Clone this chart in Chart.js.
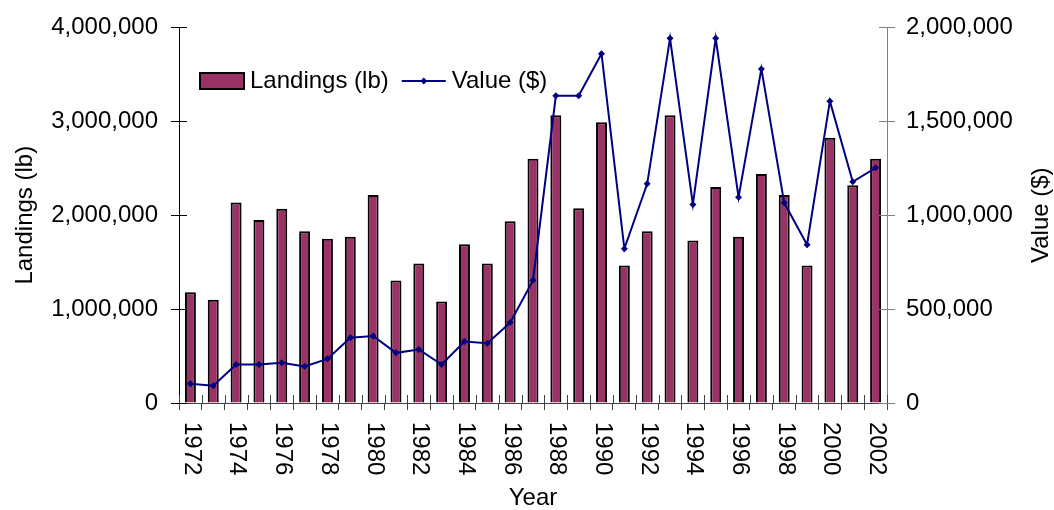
<!DOCTYPE html>
<html>
<head>
<meta charset="utf-8">
<script src="https://cdn.jsdelivr.net/npm/chart.js@4.4.0/dist/chart.umd.min.js"></script>
<style>
  html, body { margin: 0; padding: 0; background: #fff; }
</style>
</head>
<body>
<canvas id="chart1" width="1054" height="510"></canvas>
<script>
// données
var years = ['1972','1973','1974','1975','1976','1977','1978','1979','1980','1981',
             '1982','1983','1984','1985','1986','1987','1988','1989','1990','1991',
             '1992','1993','1994','1995','1996','1997','1998','1999','2000','2001','2002'];

var landings = [1180000, 1100000, 2135000, 1950000, 2070000, 1830000, 1750000, 1770000, 2215000, 1305000,
                1485000, 1080000, 1690000, 1485000, 1935000, 2600000, 3065000, 2075000, 2990000, 1465000,
                1830000, 3065000, 1730000, 2300000, 1770000, 2440000, 2215000, 1465000, 2825000, 2320000, 2600000];

var values = [102000, 92000, 205000, 205000, 214000, 195000, 235000, 347000, 357000, 267000,
              285000, 205000, 327000, 318000, 428000, 653000, 1636000, 1636000, 1860000, 822000,
              1167000, 1942000, 1057000, 1942000, 1096000, 1779000, 1066000, 843000, 1607000, 1178000, 1252000];

var shownYears = ['1972','1974','1976','1978','1980','1982','1984','1986','1988','1990',
                  '1992','1994','1996','1998','2000','2002'];
var leftTicks = [0, 1000000, 2000000, 3000000, 4000000];
var rightTicks = [0, 500000, 1000000, 1500000, 2000000];

var barColor = '#993366';
var lineColor = '#000080';
var fontFam = "'Liberation Sans', Arial, sans-serif";

Chart.defaults.font.family = fontFam;
Chart.defaults.font.size = 24;
Chart.defaults.color = '#000';

// ticks qui traversent les axes + labels tournés + légende dans le graphique
var extras = {
    id: 'extras',
    afterDraw: function(chart) {
        var ctx = chart.ctx;
        var area = chart.chartArea;
        var x = chart.scales.x, y = chart.scales.y, y1 = chart.scales.y1;

        ctx.save();
        ctx.lineWidth = 1;

        //petits ticks à l'intérieur
        ctx.strokeStyle = '#000';
        y.ticks.forEach(function(t) {
            var py = Math.round(y.getPixelForValue(t.value)) + 0.5;
            ctx.beginPath(); ctx.moveTo(area.left, py); ctx.lineTo(area.left + 8, py); ctx.stroke();
        });
        ctx.strokeStyle = '#808080';
        y1.ticks.forEach(function(t) {
            var py = Math.round(y1.getPixelForValue(t.value)) + 0.5;
            ctx.beginPath(); ctx.moveTo(area.right, py); ctx.lineTo(area.right - 8, py); ctx.stroke();
        });
        ctx.strokeStyle = '#404040';
        var step = x.getPixelForValue(1) - x.getPixelForValue(0);
        for (var i = 0; i <= years.length; i++) {
            var px = Math.round(x.getPixelForValue(i) - step / 2) + 0.5;
            ctx.beginPath(); ctx.moveTo(px, area.bottom); ctx.lineTo(px, area.bottom - 8); ctx.stroke();
        }

        //labels des années, lus de haut en bas
        ctx.fillStyle = '#000';
        ctx.font = '24px ' + fontFam;
        ctx.textAlign = 'left';
        ctx.textBaseline = 'middle';
        years.forEach(function(yr, i) {
            if (shownYears.indexOf(yr) < 0) return;
            ctx.save();
            ctx.translate(x.getPixelForValue(i) + 1, area.bottom + 19);
            ctx.rotate(Math.PI / 2);
            ctx.fillText(yr, 0, 0);
            ctx.restore();
        });

        //titre axe droit
        ctx.save();
        ctx.translate(1041, (area.top + area.bottom) / 2);
        ctx.rotate(-Math.PI / 2);
        ctx.textAlign = 'center';
        ctx.fillText(chart.data.datasets[1].label, 0, 0);
        ctx.restore();

        //légende
        var ly = 81;
        var lx = area.left + 21;
        ctx.fillStyle = barColor;
        ctx.fillRect(lx, ly - 8, 44, 16);
        ctx.lineWidth = 2;
        ctx.strokeStyle = '#000';
        ctx.strokeRect(lx, ly - 8, 44, 16);
        lx += 50;
        ctx.fillStyle = '#000';
        ctx.fillText(chart.data.datasets[0].label, lx, ly);
        lx += ctx.measureText(chart.data.datasets[0].label).width + 13;
        ctx.strokeStyle = lineColor;
        ctx.lineWidth = 2;
        ctx.beginPath(); ctx.moveTo(lx, ly); ctx.lineTo(lx + 44, ly); ctx.stroke();
        ctx.fillStyle = lineColor;
        ctx.beginPath();
        ctx.moveTo(lx + 22, ly - 3.5); ctx.lineTo(lx + 25.5, ly); ctx.lineTo(lx + 22, ly + 3.5); ctx.lineTo(lx + 18.5, ly);
        ctx.closePath(); ctx.fill();
        lx += 50;
        ctx.fillStyle = '#000';
        ctx.fillText(chart.data.datasets[1].label, lx, ly);

        ctx.restore();
    }
};

var ctx = document.getElementById('chart1').getContext('2d');
var myChart = new Chart(ctx, {
    type: 'bar',
    data: {
        labels: years,
        datasets: [{
            type: 'bar',
            label: 'Landings (lb)',
            data: landings,
            yAxisID: 'y',
            backgroundColor: barColor,
            borderColor: '#000',
            borderWidth: 2,
            barPercentage: 0.48,
            categoryPercentage: 1,
            order: 1
        }, {
            type: 'line',
            label: 'Value ($)',
            data: values,
            yAxisID: 'y1',
            borderColor: lineColor,
            borderWidth: 2,
            pointStyle: 'rectRot',
            pointRadius: 3.5,
            pointBackgroundColor: lineColor,
            pointBorderColor: lineColor,
            pointBorderWidth: 0,
            tension: 0,
            order: 0
        }]
    },
    options: {
        responsive: false,
        animation: false,
        devicePixelRatio: 1,
        layout: { padding: { top: 26, left: 0, right: 0, bottom: 0 } },
        plugins: {
            legend: { display: false },
            tooltip: { enabled: false }
        },
        scales: {
            x: {
                offset: true,
                grid: { offset: true, drawOnChartArea: false, tickLength: 7, color: '#404040' },
                border: { color: '#404040' },
                ticks: { display: false },
                title: { display: true, text: 'Year', font: { size: 24, lineHeight: 1 }, padding: 0, color: '#000' },
                afterFit: function(s) { s.height = 107; }
            },
            y: {
                position: 'left',
                min: 0,
                max: 4000000,
                afterBuildTicks: function(s) { s.ticks = leftTicks.map(function(v) { return { value: v }; }); },
                ticks: { padding: 13, callback: function(v) { return v.toLocaleString('en-US'); } },
                grid: { drawOnChartArea: false, tickLength: 8, color: '#000' },
                border: { color: '#000' },
                title: { display: true, text: 'Landings (lb)', font: { size: 24, lineHeight: 1 }, padding: { top: 13 }, color: '#000' },
                afterFit: function(s) { s.width = 179; }
            },
            y1: {
                position: 'right',
                min: 0,
                max: 2000000,
                afterBuildTicks: function(s) { s.ticks = rightTicks.map(function(v) { return { value: v }; }); },
                ticks: { padding: 11, callback: function(v) { return v.toLocaleString('en-US'); } },
                grid: { drawOnChartArea: false, tickLength: 8, color: '#808080' },
                border: { color: '#808080' },
                afterFit: function(s) { s.width = 167; }
            }
        }
    },
    plugins: [extras]
});
</script>
</body>
</html>
